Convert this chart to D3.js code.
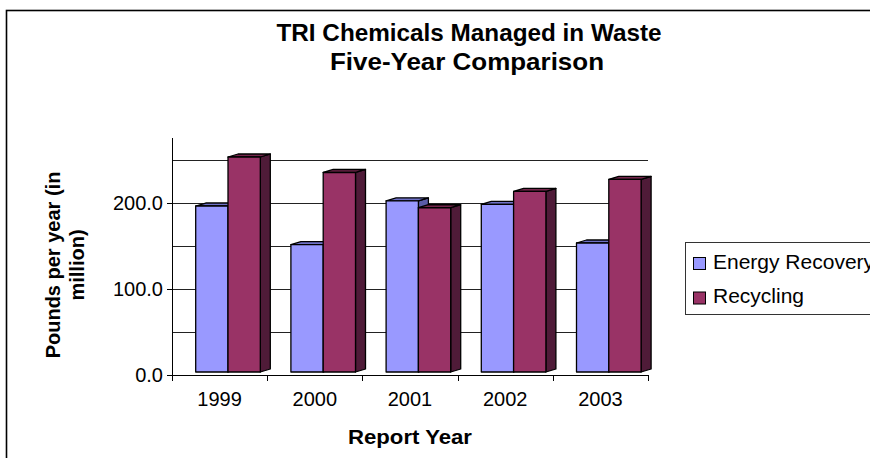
<!DOCTYPE html>
<html lang="en">
<head>
	<meta charset="UTF-8">
	<title>TRI Chemicals Managed in Waste</title>
	<script src="https://cdn.jsdelivr.net/npm/d3@7"></script>
	<style>
		html, body{
			margin:0;
			padding:0;
			background:white;
		}
		svg{
			display:block;
			font-family:"Liberation Sans", Arial, sans-serif;
		}
		.grid{
			stroke:#222;
			stroke-width:1;
		}
		.axis{
			stroke:#000;
			stroke-width:1;
		}
		.face{
			stroke:#000;
			stroke-width:1.3;
			stroke-linejoin:round;
		}
	</style>
</head>
<body>
	<svg width="870" height="458"></svg>
	<script>
		// data
		var years = ["1999", "2000", "2001", "2002", "2003"];
		var series = ["Energy Recovery", "Recycling"];
		var energyRecovery = [193, 148, 199, 195, 150];
		var recycling = [250, 232, 191, 210, 224];
		var yTicks = [0, 100, 200];
		var yGrid = [50, 100, 150, 200, 250];

		var colors = {
			"Energy Recovery": {front:"#9999FF", top:"#6E70C6", side:"#5B5DA8"},
			"Recycling": {front:"#993366", top:"#74264C", side:"#4F1B38"}
		};

		var svg = d3.select("svg");

		// outer chart frame (runs off the right and bottom edges)
		svg.append("rect")
			.attr("x",6.5).attr("y",10.5)
			.attr("width",1000).attr("height",1000)
			.attr("fill","none")
			.attr("stroke","#000")
			.attr("stroke-width",1.6);

		var x = d3.scaleBand().domain(years).range([172, 648]);
		var xs = d3.scaleBand().domain(series).range([23.7, 88.3]);
		var y = d3.scaleLinear().domain([0, 275]).range([375, 138.5]);

		var depthX = 10, depthY = -3, lift = -3;

		// gridlines
		svg.append("g").selectAll("line")
			.data(yGrid)
			.enter().append("line")
			.attr("class","grid")
			.attr("x1",172).attr("x2",648)
			.attr("y1",d=>Math.round(y(d))+0.5)
			.attr("y2",d=>Math.round(y(d))+0.5);

		// axes
		var g_axis = svg.append("g");
		g_axis.append("line").attr("class","axis")
			.attr("x1",172.5).attr("x2",172.5).attr("y1",138).attr("y2",y(0));
		g_axis.append("line").attr("class","axis")
			.attr("x1",172).attr("x2",648).attr("y1",375.5).attr("y2",375.5);
		g_axis.selectAll(".ytick").data(yTicks).enter().append("line")
			.attr("class","axis")
			.attr("x1",167).attr("x2",172)
			.attr("y1",d=>Math.round(y(d))+0.5).attr("y2",d=>Math.round(y(d))+0.5);
		g_axis.selectAll(".ylab").data(yTicks).enter().append("text")
			.attr("x",163)
			.attr("y",d=>y(d))
			.attr("dy","0.36em")
			.attr("text-anchor","end")
			.attr("font-size",20)
			.text(d=>d3.format(".1f")(d));
		var xEdges = years.map(d=>x(d)).concat([648]);
		g_axis.selectAll(".xtick").data(xEdges).enter().append("line")
			.attr("class","axis")
			.attr("x1",d=>Math.round(d)+0.5).attr("x2",d=>Math.round(d)+0.5)
			.attr("y1",375).attr("y2",381);
		g_axis.selectAll(".xlab").data(years).enter().append("text")
			.attr("x",d=>x(d)+x.bandwidth()/2)
			.attr("y",406)
			.attr("text-anchor","middle")
			.attr("font-size",20)
			.text(d=>d);

		// 3d-ish bars
		var rows = years.map(function(yr, i){
			return {year:yr, values:[
				{name:series[0], v:energyRecovery[i]},
				{name:series[1], v:recycling[i]}
			]};
		});

		var g_bars = svg.append("g");
		rows.forEach(function(r){
			r.values.forEach(function(s){
				var x0 = x(r.year) + xs(s.name),
					x1 = x0 + xs.bandwidth(),
					yt = y(s.v) + lift,
					yb = y(0) + lift,
					c = colors[s.name];
				var g = g_bars.append("g");
				g.append("path").attr("class","face")
					.attr("fill",c.side)
					.attr("d",`M${x1},${yt}L${x1+depthX},${yt+depthY}L${x1+depthX},${yb+depthY}L${x1},${yb}Z`);
				g.append("path").attr("class","face")
					.attr("fill",c.top)
					.attr("d",`M${x0},${yt}L${x0+depthX},${yt+depthY}L${x1+depthX},${yt+depthY}L${x1},${yt}Z`);
				g.append("rect").attr("class","face")
					.attr("fill",c.front)
					.attr("x",x0).attr("y",yt)
					.attr("width",x1-x0).attr("height",yb-yt);
			});
		});

		// titles
		svg.append("text")
			.attr("x",469).attr("y",41)
			.attr("text-anchor","middle")
			.attr("font-size",24).attr("font-weight","bold")
			.attr("textLength",385).attr("lengthAdjust","spacingAndGlyphs")
			.text("TRI Chemicals Managed in Waste");
		svg.append("text")
			.attr("x",467).attr("y",70)
			.attr("text-anchor","middle")
			.attr("font-size",24).attr("font-weight","bold")
			.attr("textLength",274).attr("lengthAdjust","spacingAndGlyphs")
			.text("Five-Year Comparison");

		svg.append("text")
			.attr("x",410).attr("y",444)
			.attr("text-anchor","middle")
			.attr("font-size",20).attr("font-weight","bold")
			.attr("textLength",124).attr("lengthAdjust","spacingAndGlyphs")
			.text("Report Year");

		svg.append("text")
			.attr("transform","translate(60,265) rotate(-90)")
			.attr("text-anchor","middle")
			.attr("font-size",20).attr("font-weight","bold")
			.text("Pounds per year (in");
		svg.append("text")
			.attr("transform","translate(84,265) rotate(-90)")
			.attr("text-anchor","middle")
			.attr("font-size",20).attr("font-weight","bold")
			.text("million)");

		// legend
		var legend = svg.append("g");
		legend.append("rect")
			.attr("x",685.5).attr("y",242.5)
			.attr("width",300).attr("height",72)
			.attr("fill","white")
			.attr("stroke","#333").attr("stroke-width",1);
		series.forEach(function(s, i){
			var ly = 257.5 + i*34.5;
			legend.append("rect")
				.attr("x",693.5).attr("y",ly)
				.attr("width",12).attr("height",12)
				.attr("fill",colors[s].front)
				.attr("stroke","#000").attr("stroke-width",1);
			legend.append("text")
				.attr("x",713).attr("y",ly+11)
				.attr("font-size",21)
				.text(s);
		});
	</script>
</body>
</html>
